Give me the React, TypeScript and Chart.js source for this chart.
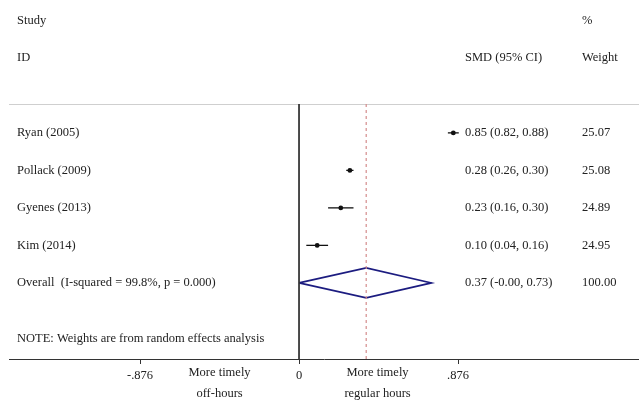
import React, { useEffect, useRef } from "react";
import { Chart, registerables } from "chart.js";

Chart.register(...registerables);

// ---- data ----
const studies = ["Ryan (2005)", "Pollack (2009)", "Gyenes (2013)", "Kim (2014)"];
const smd = [0.85, 0.28, 0.23, 0.1];
const ciLow = [0.82, 0.26, 0.16, 0.04];
const ciHigh = [0.88, 0.3, 0.3, 0.16];
const smdLabels = ["0.85 (0.82, 0.88)", "0.28 (0.26, 0.30)", "0.23 (0.16, 0.30)", "0.10 (0.04, 0.16)"];
const weights = ["25.07", "25.08", "24.89", "24.95"];
const overallLabel = "Overall  (I-squared = 99.8%, p = 0.000)";
const overallSmd = [0.37];
const overallLow = [0.0];
const overallHigh = [0.73];
const overallSmdLabel = "0.37 (-0.00, 0.73)";
const overallWeight = "100.00";
const xTicks = [-0.876, 0, 0.876];
const xTickLabels = ["-.876", "0", ".876"];
const noteText = "NOTE: Weights are from random effects analysis";
const leftAxisNote = ["More timely", "off-hours"];
const rightAxisNote = ["More timely", "regular hours"];

const FONT = "12.5px 'Liberation Serif', 'Times New Roman', serif";
const TEXT = "#222";

export default function App() {
  const ref = useRef<HTMLCanvasElement | null>(null);

  useEffect(() => {
    if (!ref.current) return;
    const rows = studies.map((_, i) => i + 1);
    const overallRow = studies.length + 1;
    const noteRow = overallRow + 1.5;

    const ciSets = studies.map((_, i) => ({
      type: "scatter" as const,
      data: [
        { x: ciLow[i], y: rows[i] },
        { x: ciHigh[i], y: rows[i] },
      ],
      showLine: true,
      borderColor: "#111",
      borderWidth: 1.3,
      pointRadius: 0,
    }));

    const dh = 0.4;
    const diamond = {
      type: "scatter" as const,
      data: [
        { x: overallLow[0], y: overallRow },
        { x: overallSmd[0], y: overallRow - dh },
        { x: overallHigh[0], y: overallRow },
        { x: overallSmd[0], y: overallRow + dh },
        { x: overallLow[0], y: overallRow },
      ],
      showLine: true,
      borderColor: "#1c1c80",
      borderWidth: 1.6,
      pointRadius: 0,
    };

    const yMin = 0.23;
    const yMax = 7.03;

    const zeroLine = {
      type: "scatter" as const,
      data: [
        { x: 0, y: yMin },
        { x: 0, y: yMax },
      ],
      showLine: true,
      borderColor: "#333",
      borderWidth: 1,
      pointRadius: 0,
    };
    const overallLine = {
      type: "scatter" as const,
      data: [
        { x: overallSmd[0], y: yMin },
        { x: overallSmd[0], y: yMax },
      ],
      showLine: true,
      borderColor: "#d48c8c",
      borderDash: [3, 3],
      borderWidth: 1.2,
      pointRadius: 0,
    };
    const points = {
      type: "scatter" as const,
      data: smd.map((v, i) => ({ x: v, y: rows[i] })),
      pointRadius: 2.4,
      pointStyle: "circle",
      backgroundColor: "#111",
      borderColor: "#111",
      borderWidth: 0,
    };

    const textPlugin = {
      id: "forestText",
      beforeDatasetsDraw(chart: any) {
        const { ctx, chartArea } = chart;
        ctx.save();
        ctx.strokeStyle = "#cfcfcf";
        ctx.lineWidth = 1;
        ctx.beginPath();
        ctx.moveTo(chartArea.left, chartArea.top + 0.5);
        ctx.lineTo(chartArea.right, chartArea.top + 0.5);
        ctx.stroke();
        ctx.restore();
      },
      afterDraw(chart: any) {
        const { ctx, scales } = chart;
        const ys = scales.y;
        const xs = scales.x;
        ctx.save();
        ctx.font = FONT;
        ctx.fillStyle = TEXT;
        ctx.textBaseline = "middle";
        ctx.textAlign = "left";
        const colStudy = 17;
        const colSmd = 465;
        const colW = 582;
        ctx.fillText("Study", colStudy, ys.getPixelForValue(-2));
        ctx.fillText("ID", colStudy, ys.getPixelForValue(-1));
        ctx.fillText("%", colW, ys.getPixelForValue(-2));
        ctx.fillText("SMD (95% CI)", colSmd, ys.getPixelForValue(-1));
        ctx.fillText("Weight", colW, ys.getPixelForValue(-1));
        studies.forEach((s, i) => {
          const y = ys.getPixelForValue(rows[i]);
          ctx.fillText(s, colStudy, y);
          ctx.fillText(smdLabels[i], colSmd, y);
          ctx.fillText(weights[i], colW, y);
        });
        const oy = ys.getPixelForValue(overallRow);
        ctx.fillText(overallLabel, colStudy, oy);
        ctx.fillText(overallSmdLabel, colSmd, oy);
        ctx.fillText(overallWeight, colW, oy);
        ctx.fillText(noteText, colStudy, ys.getPixelForValue(noteRow));
        ctx.textAlign = "center";
        const axisY = chart.chartArea.bottom;
        const lx = (xs.getPixelForValue(xTicks[0]) + xs.getPixelForValue(xTicks[1])) / 2;
        const rx = (xs.getPixelForValue(xTicks[1]) + xs.getPixelForValue(xTicks[2])) / 2;
        ctx.fillText(leftAxisNote[0], lx, axisY + 14);
        ctx.fillText(leftAxisNote[1], lx, axisY + 35);
        ctx.fillText(rightAxisNote[0], rx - 1, axisY + 14);
        ctx.fillText(rightAxisNote[1], rx - 1, axisY + 35);
        ctx.restore();
      },
    };

    const chart = new Chart(ref.current, {
      type: "scatter",
      data: {
        datasets: [zeroLine, overallLine, ...ciSets, points, diamond] as any,
      },
      options: {
        animation: false,
        responsive: false,
        maintainAspectRatio: false,
        layout: { autoPadding: false, padding: { top: 104, left: 9, right: 0, bottom: 0 } },
        plugins: { legend: { display: false }, tooltip: { enabled: false } },
        scales: {
          x: {
            type: "linear",
            min: -1.598,
            max: 1.873,
            afterBuildTicks: (scale: any) => {
              scale.ticks = xTicks.map((v) => ({ value: v }));
            },
            afterFit: (scale: any) => {
              scale.height = 43;
            },
            ticks: {
              autoSkip: false,
              maxRotation: 0,
              padding: 4,
              color: TEXT,
              font: { family: "'Liberation Serif', 'Times New Roman', serif", size: 12.5 },
              callback: (value: any) => {
                const idx = xTicks.findIndex((t) => Math.abs(t - Number(value)) < 1e-6);
                return idx >= 0 ? xTickLabels[idx] : "";
              },
            },
            grid: {
              drawOnChartArea: false,
              drawTicks: true,
              tickLength: 5,
              color: "#333",
            },
            border: { display: true, color: "#333", width: 1 },
          },
          y: {
            type: "linear",
            display: false,
            min: yMin,
            max: yMax,
            reverse: true,
          },
        },
      },
      plugins: [textPlugin],
    });
    return () => chart.destroy();
  }, []);

  return (
    <div style={{ position: "absolute", left: 0, top: 0, width: 639, height: 402, background: "#fff" }}>
      <canvas ref={ref} width={639} height={402} style={{ display: "block" }} />
    </div>
  );
}
